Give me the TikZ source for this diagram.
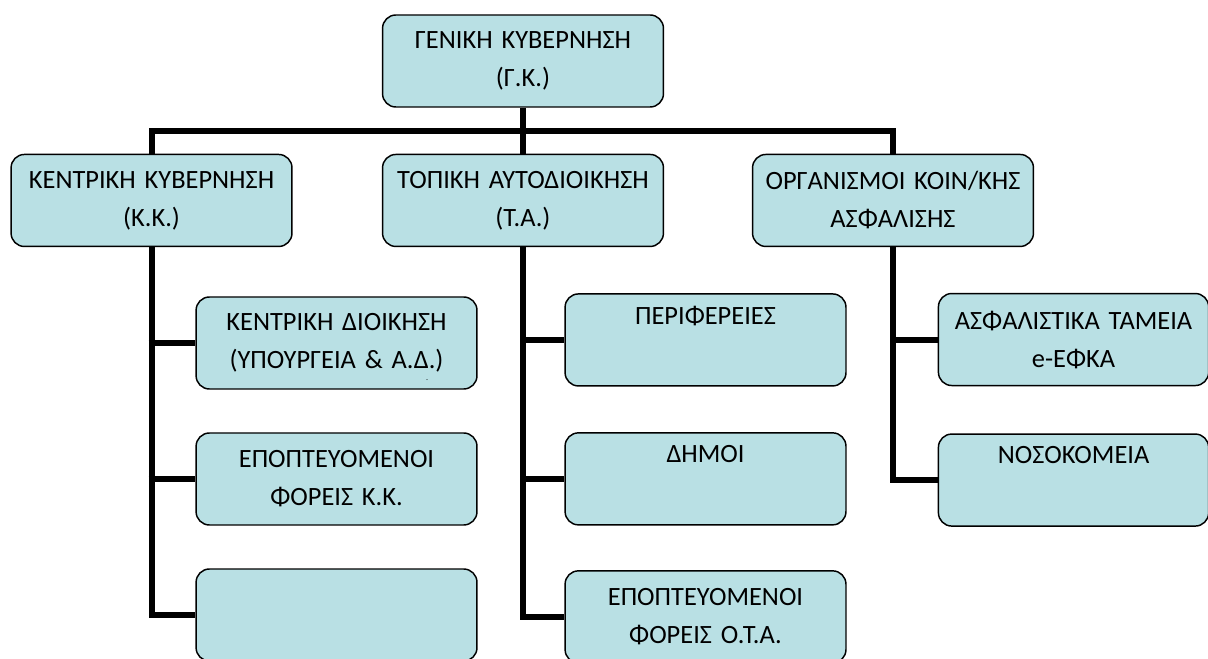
\documentclass[tikz,border=0pt]{standalone}
\usepackage{fontspec}
\setmainfont{Carlito}
\usetikzlibrary{positioning}
\definecolor{boxfill}{RGB}{185,224,228}

\begin{document}
\begin{tikzpicture}[x=0.75pt,y=-0.75pt,on grid,
  box/.style={draw,line width=1.1pt,rounded corners=10pt,fill=boxfill,
    minimum width=208.5pt,minimum height=69pt,text width=204pt,align=center,
    font=\fontsize{19.8}{28.5}\selectfont},
  link/.style={line width=4.5pt}]

  \useasboundingbox (0,0) rectangle (1208,659);
  \clip (0,0) rectangle (1208,659);

  % top and second level
  \node[box] (gk) at (523,61) {ΓΕΝΙΚΗ ΚΥΒΕΡΝΗΣΗ\\(Γ.Κ.)};
  \node[box] (ta) [below=104.6pt of gk] {ΤΟΠΙΚΗ ΑΥΤΟΔΙΟΙΚΗΣΗ\\(Τ.Α.)};
  \node[box] (kk) [left=278.6pt of ta] {ΚΕΝΤΡΙΚΗ ΚΥΒΕΡΝΗΣΗ\\(Κ.Κ.)};
  \node[box] (ok) [right=277.5pt of ta] {ΟΡΓΑΝΙΣΜΟΙ ΚΟΙΝ/ΚΗΣ\\ΑΣΦΑΛΙΣΗΣ};

  % under K.K.
  \node[box] (kk1) [below right=106.9pt and 138.75pt of kk] {ΚΕΝΤΡΙΚΗ ΔΙΟΙΚΗΣΗ\\(ΥΠΟΥΡΓΕΙΑ \& Α.Δ.)};
  \node[box] (kk2) [below=102pt of kk1] {ΕΠΟΠΤΕΥΟΜΕΝΟΙ\\ΦΟΡΕΙΣ Κ.Κ.};
  \node[box] (kk3) [below=102pt of kk2] {};
  \node[font=\fontsize{6}{6}\selectfont,inner sep=0pt] (dot) at ([xshift=68pt,yshift=7pt]kk1.south) {.};

  % under T.A.
  \node[box] (ta1) [below right=104.6pt and 136.9pt of ta] {ΠΕΡΙΦΕΡΕΙΕΣ\\ \strut};
  \node[box] (ta2) [below=104.2pt of ta1] {ΔΗΜΟΙ\\ \strut};
  \node[box] (ta3) [below=103.5pt of ta2] {ΕΠΟΠΤΕΥΟΜΕΝΟΙ\\ΦΟΡΕΙΣ Ο.Τ.Α.};

  % under O.K.A.
  \node[box,minimum width=200pt,text width=196pt] (ok1) [below right=104.3pt and 135.4pt of ok] {ΑΣΦΑΛΙΣΤΙΚΑ ΤΑΜΕΙΑ\\e-ΕΦΚΑ};
  \node[box,minimum width=200pt,text width=196pt] (ok2) [below=105.4pt of ok1] {ΝΟΣΟΚΟΜΕΙΑ\\ \strut};

  \coordinate (j) at (523,131);
  \draw[link] (gk.south) -- (j) -- (ta.north);
  \draw[link] (kk.north) |- (j) -| (ok.north);

  \draw[link] (kk.south) |- (kk3.west);
  \draw[link] ([xshift=-2.25pt]kk.south |- kk1.west) -- (kk1.west);
  \draw[link] ([xshift=-2.25pt]kk.south |- kk2.west) -- (kk2.west);

  \draw[link] (ta.south) |- (ta3.west);
  \draw[link] ([xshift=-2.25pt]ta.south |- ta1.west) -- (ta1.west);
  \draw[link] ([xshift=-2.25pt]ta.south |- ta2.west) -- (ta2.west);

  \draw[link] (ok.south) |- (ok2.west);
  \draw[link] ([xshift=-2.25pt]ok.south |- ok1.west) -- (ok1.west);

\end{tikzpicture}
\end{document}
